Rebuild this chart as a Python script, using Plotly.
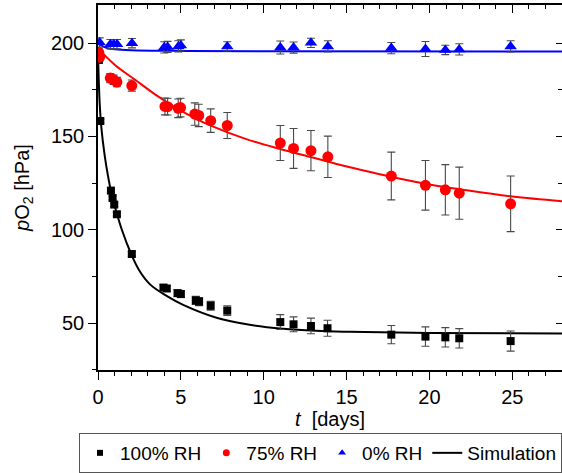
import plotly.graph_objects as go

# ---------------- data ----------------
t_100 = [0.05, 0.14, 0.78, 0.88, 0.98, 1.14, 2.04, 3.95, 4.15, 4.8, 5.0, 5.9, 6.1, 6.8, 7.8,
         11.0, 11.8, 12.85, 13.85, 17.7, 19.76, 20.96, 21.8, 24.9]
p_100 = [191, 158.3, 121, 117, 113.5, 108.3, 87, 69, 68.5, 66, 65.5, 62.1, 61.5, 59.2, 56.6,
         50.5, 49.3, 48.4, 47.2, 43.75, 42.7, 42.3, 41.8, 40.3]
e_100 = [1, 1, 1, 1, 1, 1, 1.2, 1.5, 1.5, 1.8, 1.8, 2.2, 2.2, 2.4, 2.6,
         4, 4, 4.2, 4.3, 4.9, 5.2, 5.2, 5.2, 5.4]

t_75 = [0.05, 0.1, 0.74, 0.94, 1.14, 2.04, 4.04, 4.2, 4.84, 4.98, 5.84, 6.08, 6.8, 7.8,
        11.0, 11.8, 12.85, 13.87, 17.7, 19.76, 20.96, 21.8, 24.9]
p_75 = [195, 192.5, 181.3, 180.4, 179.2, 177.3, 166.1, 166, 165.1, 165.5, 162, 161.3, 158.5, 155.9,
        146.5, 143.6, 142.4, 139.1, 128.8, 123.8, 121.4, 119.6, 113.9]
e_75 = [2, 2, 2.5, 2.5, 2.5, 3, 4.5, 4.5, 5, 5, 6, 6, 6.3, 7,
        9.4, 10.7, 10.8, 11.1, 12.8, 13.3, 13.5, 14, 14.9]

t_0 = [0.1, 0.75, 0.95, 1.15, 2.05, 4.0, 4.2, 4.85, 5.0, 7.8, 11.0, 11.8, 12.85, 13.87,
       17.7, 19.76, 20.96, 21.8, 24.9]
p_0 = [200.4, 199.5, 199.5, 199.5, 200, 197.8, 198, 198.3, 198.8, 198.3, 197.7, 197.7, 200.2, 198.3,
       197.4, 196.9, 196.4, 196.7, 198.3]
e_0 = [2.5, 2.5, 2.5, 2.5, 2.5, 3, 3, 3, 3, 2.5, 3.5, 3, 2.5, 3, 3, 4, 2.5, 3, 3]

sim_t_100 = [0, 0.1, 0.2, 0.4, 0.6, 0.8, 1.0, 1.44, 2.0, 2.5, 3.14, 4.14, 5.14, 7.15, 9.15,
             11.15, 13.15, 15.15, 20, 28]
sim_p_100 = [194, 168, 155, 140, 129, 120, 113, 100, 87, 78, 70.7, 64.5, 59.7, 52.8, 49,
             46.9, 45.8, 45.3, 44.6, 44.4]

sim_t_75 = [0, 0.14, 1.04, 2.24, 3.44, 4.84, 5.84, 6.84, 8.95, 10.95, 12.95, 14.95, 17, 20, 22, 25, 28]
sim_p_75 = [197.5, 196, 188.2, 180.4, 172.6, 164.7, 159.9, 155.7, 148.6, 143.4, 138.7, 134, 129.8,
            124.3, 121.5, 117.8, 115.3]

sim_t_0 = [0, 0.5, 1, 2, 5, 10, 28]
sim_p_0 = [200, 197.5, 196.8, 196.3, 195.9, 195.7, 195.6]

legend_names = ["100% RH", "75% RH", "0% RH", "Simulation"]

x_range = [0, 28]
y_range = [24.8, 220.5]

FONT = "Liberation Sans, Arial, sans-serif"
ERR = dict(type="data", visible=True, color="#4a4a4a", thickness=1.1, width=4)

fig = go.Figure()

# simulation lines
fig.add_trace(go.Scatter(x=sim_t_0, y=sim_p_0, mode="lines", line=dict(color="#0000ff", width=2, shape="spline"),
                         showlegend=False))
fig.add_trace(go.Scatter(x=sim_t_75, y=sim_p_75, mode="lines", line=dict(color="#ff0000", width=2, shape="spline"),
                         showlegend=False))
fig.add_trace(go.Scatter(x=sim_t_100, y=sim_p_100, mode="lines", line=dict(color="#000000", width=2, shape="spline"),
                         showlegend=False))

# measurements
fig.add_trace(go.Scatter(x=t_100, y=p_100, mode="markers", showlegend=False,
                         marker=dict(symbol="square", size=8, color="#000000"),
                         error_y=dict(array=e_100, **ERR)))
fig.add_trace(go.Scatter(x=t_75, y=p_75, mode="markers", showlegend=False,
                         marker=dict(symbol="circle", size=11, color="#ff0000"),
                         error_y=dict(array=e_75, **ERR)))
fig.add_trace(go.Scatter(x=t_0, y=p_0, mode="markers", showlegend=False,
                         marker=dict(symbol="triangle-up", size=11, color="#0000ff"),
                         error_y=dict(array=e_0, **ERR)))

# legend entries (small symbols as in the reference)
fig.add_trace(go.Scatter(x=[None], y=[None], mode="markers", name=legend_names[0], legendrank=1,
                         marker=dict(symbol="square", size=6, color="#000000")))
fig.add_trace(go.Scatter(x=[None], y=[None], mode="markers", name=legend_names[1], legendrank=2,
                         marker=dict(symbol="circle", size=7, color="#ff0000")))
fig.add_trace(go.Scatter(x=[None], y=[None], mode="markers", name=legend_names[2], legendrank=3,
                         marker=dict(symbol="triangle-up", size=7, color="#0000ff")))
fig.add_trace(go.Scatter(x=[None], y=[None], mode="lines", name=legend_names[3], legendrank=4,
                         line=dict(color="#000000", width=2)))

# dummy trace for mirrored (inside-tick) top/right axes
fig.add_trace(go.Scatter(x=[None], y=[None], xaxis="x2", yaxis="y2", showlegend=False, hoverinfo="skip"))

axis_common = dict(showgrid=False, zeroline=False, linecolor="#000000", linewidth=1.5,
                   tickcolor="#000000", tickwidth=1.3,
                   tickfont=dict(family=FONT, size=20, color="#000000"))

fig.update_layout(
    width=562, height=473,
    margin=dict(l=98, r=0, t=5, b=93),
    paper_bgcolor="white", plot_bgcolor="white",
    font=dict(family=FONT, size=20, color="#000000"),
    xaxis=dict(range=x_range, tickmode="linear", tick0=0, dtick=5, ticks="outside", ticklen=8,
               minor=dict(dtick=1, ticks="outside", ticklen=4, tickcolor="#000000", tickwidth=1.2),
               title=dict(text="<i>t</i>  [days]", font=dict(family=FONT, size=20), standoff=5),
               showline=True, **axis_common),
    yaxis=dict(range=y_range, tickmode="linear", tick0=0, dtick=50, ticks="outside", ticklen=8,
               minor=dict(dtick=25, ticks="outside", ticklen=4, tickcolor="#000000", tickwidth=1.2),
               title=dict(text="<i>p</i>O<sub>2</sub> [hPa]", font=dict(family=FONT, size=20), standoff=16),
               showline=True, **axis_common),
    xaxis2=dict(range=x_range, overlaying="x", side="top", anchor="y2", tickmode="linear", tick0=0, dtick=5,
                ticks="inside", ticklen=8, showticklabels=False,
                minor=dict(dtick=1, ticks="inside", ticklen=4, tickcolor="#000000", tickwidth=1.2),
                showline=True, **axis_common),
    yaxis2=dict(range=y_range, overlaying="y", side="right", anchor="x2", tickmode="linear", tick0=0, dtick=50,
                ticks="inside", ticklen=6, showticklabels=False,
                minor=dict(dtick=25, ticks="inside", ticklen=4, tickcolor="#000000", tickwidth=1.2),
                showline=True, **axis_common),
    legend=dict(orientation="h", x=-0.017, xanchor="left", y=-0.173, yanchor="top",
                bordercolor="#555555", borderwidth=1, bgcolor="white",
                font=dict(family=FONT, size=19), itemwidth=30, itemsizing="trace",
                tracegroupgap=0),
)

fig.write_html("out.html")
